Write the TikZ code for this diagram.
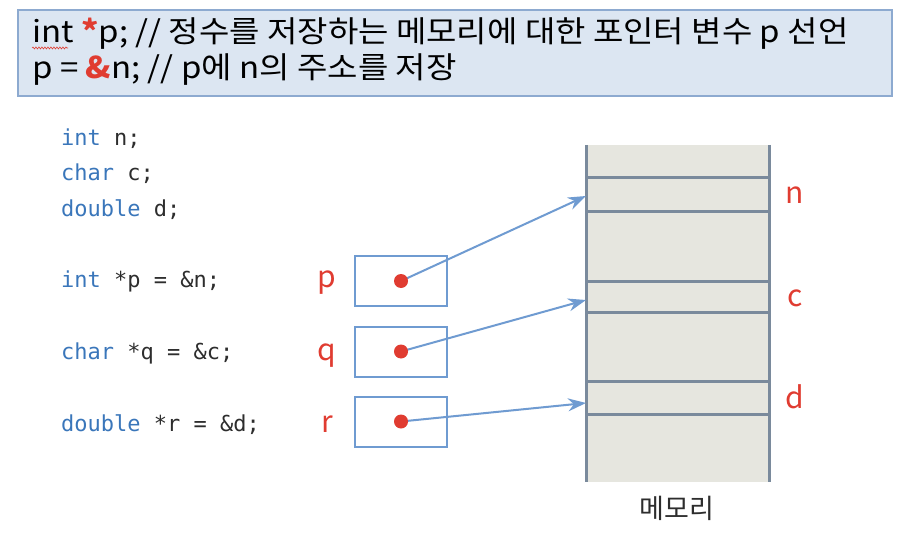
\documentclass[tikz,border=0pt]{standalone}
\usepackage{fontspec}
\setmainfont{Noto Sans CJK KR}
\newfontfamily\hdrfont[FakeStretch=1.1]{Noto Sans CJK KR}
\newfontfamily\codefont{DejaVu Sans Mono}
\usetikzlibrary{arrows.meta, positioning, decorations.pathmorphing}
\definecolor{hdrfill}{RGB}{220,230,242}
\definecolor{hdrline}{RGB}{141,170,208}
\definecolor{kwblue}{RGB}{58,118,186}
\definecolor{codegray}{RGB}{45,45,45}
\definecolor{ptrred}{RGB}{224,60,49}
\definecolor{ptrblue}{RGB}{111,155,209}
\definecolor{memfill}{RGB}{230,230,223}
\definecolor{memline}{RGB}{122,138,156}
\newcommand{\kw}[1]{\textcolor{kwblue}{#1}}

\begin{document}
\begin{tikzpicture}[x=1pt, y=-1pt,
  hdrtext/.style={anchor=base west, inner sep=0pt, text=black, font=\hdrfont\fontsize{30}{36}\selectfont},
  code/.style={anchor=base west, inner sep=0pt, text=codegray, font=\codefont\fontsize{22}{24}\selectfont},
  varname/.style={anchor=base, inner sep=0pt, text=ptrred, font=\fontsize{30}{36}\selectfont},
  ptrbox/.style={draw=ptrblue, line width=2pt, minimum width=92pt, minimum height=50pt, inner sep=0pt},
  ptrdot/.style={circle, fill=ptrred, inner sep=0pt, minimum size=14pt},
  ptr/.style={draw=ptrblue, line width=2pt, -{Stealth[length=18pt, width=13pt]}},
  memrule/.style={draw=memline, line width=3pt}]
\useasboundingbox (0,0) rectangle (912,540);

% header box
\node[draw=hdrline, fill=hdrfill, line width=1.5pt, minimum width=874pt, minimum height=86pt, inner sep=0pt] (hdr) at (455,53) {};
\node[hdrtext] (hdrone) at (32,43) {int \textcolor{ptrred}{\bfseries *}p; // 정수를 저장하는 메모리에 대한 포인터 변수 p 선언};
\node[hdrtext] (hdrtwo) at (32,79) {p = \textcolor{ptrred}{\bfseries\&}n; // p에 n의 주소를 저장};
\draw[ptrred, line width=0.6pt, decorate, decoration={snake, amplitude=1pt, segment length=3pt}] (hdrone.base west) ++(0,5) -- ++(36,0);

% declarations
\node[code] (decln) at (61,146) {\kw{int} n;};
\node[code] (declc) at (61,181) {\kw{char} c;};
\node[code] (decld) at (61,216) {\kw{double} d;};
\node[code] (declp) at (61,287) {\kw{int} *p = \&n;};
\node[code] (declq) at (61,359) {\kw{char} *q = \&c;};
\node[code] (declr) at (61,431) {\kw{double} *r = \&d;};

% memory
\fill[memfill] (586,145) rectangle (769,482);
\draw[memrule] (586,145) -- (586,482) (769,145) -- (769,482);
\foreach \y in {178,211,281,312,381,414}
  \draw[memrule] (586,\y) -- (769,\y);
\coordinate (nslot) at (586,196);
\coordinate (cslot) at (586,300);
\coordinate (dslot) at (586,403);
\node[varname] (nlabel) at (795,203) {n};
\node[varname] (clabel) at (795,306) {c};
\node[varname] (dlabel) at (795,408) {d};
\node[anchor=base, inner sep=0pt, text=codegray, font=\fontsize{27}{30}\selectfont] (memlabel) at (677,518) {메모리};

% pointer variables
\node[ptrbox] (pbox) at (401,281) {};
\node[ptrbox] (qbox) at (401,351.5) {};
\node[ptrbox] (rbox) at (401,421.5) {};
\node[varname] (plabel) at (327,287) {p};
\node[varname] (qlabel) at (327,360) {q};
\node[varname] (rlabel) at (327,432) {r};
\draw[ptr] (pbox.center) -- (nslot);
\draw[ptr] (qbox.center) -- (cslot);
\draw[ptr] (rbox.center) -- (dslot);
\node[ptrdot] (pdot) at (pbox.center) {};
\node[ptrdot] (qdot) at (qbox.center) {};
\node[ptrdot] (rdot) at (rbox.center) {};
\end{tikzpicture}
\end{document}
